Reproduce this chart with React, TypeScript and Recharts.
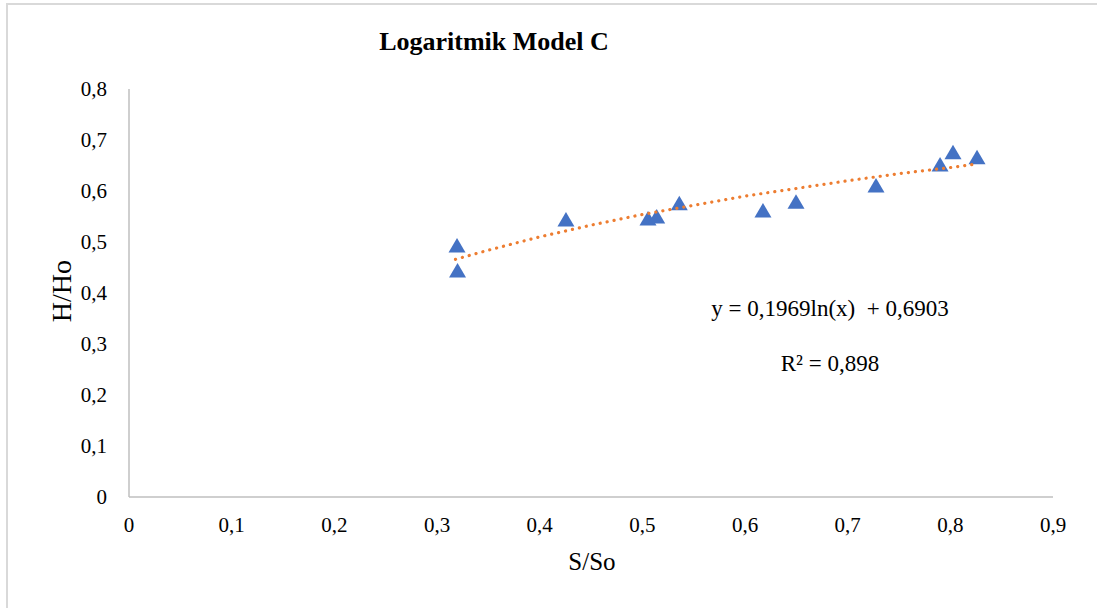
import { ScatterChart, Scatter, XAxis, YAxis } from "recharts";

// measured points, S/So vs H/Ho
const ratioS = [0.3195, 0.32, 0.4256, 0.5055, 0.514, 0.536, 0.6175, 0.6497, 0.7276, 0.79, 0.8026, 0.826];
const ratioH = [0.492, 0.443, 0.543, 0.545, 0.549, 0.575, 0.561, 0.578, 0.61, 0.651, 0.675, 0.665];

// dotted log trendline
const trendS = [0.318, 0.35, 0.4, 0.45, 0.5, 0.55, 0.6, 0.65, 0.7, 0.75, 0.8, 0.826];
const trendH = [0.466, 0.484, 0.51, 0.533, 0.554, 0.572, 0.59, 0.605, 0.62, 0.634, 0.646, 0.653];

const xTicks = [0, 0.1, 0.2, 0.3, 0.4, 0.5, 0.6, 0.7, 0.8, 0.9];
const yTicks = [0, 0.1, 0.2, 0.3, 0.4, 0.5, 0.6, 0.7, 0.8];

const points = ratioS.map((s, i) => ({ s, h: ratioH[i] }));
const trend = trendS.map((s, i) => ({ s, h: trendH[i] }));

const fmt = (v: number) => String(v).replace(".", ",");
const serif = "'Liberation Serif', 'Times New Roman', serif";
const tickStyle = { fill: "#000", fontSize: 21, fontFamily: serif };

// excel-style triangle marker
const Tri = (p: any) => {
  const { cx, cy } = p;
  if (cx == null || cy == null) return null;
  return <path d={`M${cx},${cy - 8}L${cx + 8.5},${cy + 6.5}L${cx - 8.5},${cy + 6.5}Z`} fill="#4472c4" />;
};

export default function App() {
  return (
    <div style={{ position: "absolute", left: 0, top: 0, width: 1097, height: 608, overflow: "hidden", background: "#fff" }}>
      <div style={{ position: "absolute", left: 6, top: 3, width: 1200, height: 700, border: "2px solid #d9d9d9" }} />
      <div style={{ position: "absolute", left: 0, top: 0 }}>
        <ScatterChart width={1097} height={608} margin={{ top: 89, right: 44, bottom: 81, left: 69 }}>
          <XAxis
            type="number"
            dataKey="s"
            domain={[0, 0.9]}
            ticks={xTicks}
            tickFormatter={fmt}
            tickLine={false}
            tickSize={0}
            tickMargin={20}
            height={30}
            axisLine={{ stroke: "#bfbfbf", strokeWidth: 1.5 }}
            tick={tickStyle}
            allowDataOverflow
          />
          <YAxis
            type="number"
            dataKey="h"
            domain={[0, 0.8]}
            ticks={yTicks}
            tickFormatter={fmt}
            tickLine={false}
            tickSize={0}
            tickMargin={22}
            width={60}
            axisLine={{ stroke: "#bfbfbf", strokeWidth: 1.5 }}
            tick={tickStyle}
            allowDataOverflow
          />
          <Scatter data={points} shape={Tri} fill="#4472c4" isAnimationActive={false} />
          <Scatter
            data={trend}
            shape={() => null}
            line={{ stroke: "#ed7d31", strokeWidth: 3.2, strokeDasharray: "0.1 7", strokeLinecap: "round" }}
            lineType="joint"
            isAnimationActive={false}
          />
        </ScatterChart>
      </div>
      <div style={{ position: "absolute", left: 294, width: 400, top: 27, textAlign: "center", fontFamily: serif, fontWeight: "bold", fontSize: 26 }}>
        Logaritmik Model C
      </div>
      <div style={{ position: "absolute", left: 492, width: 200, top: 548, textAlign: "center", fontFamily: serif, fontSize: 25 }}>
        S/So
      </div>
      <div style={{ position: "absolute", left: 12, width: 100, top: 275, textAlign: "center", fontFamily: serif, fontSize: 28, transform: "rotate(-90deg)" }}>
        H/Ho
      </div>
      <div style={{ position: "absolute", left: 680, width: 300, top: 296, textAlign: "center", fontFamily: serif, fontSize: 23, whiteSpace: "pre" }}>
        {"y = 0,1969ln(x)  + 0,6903"}
      </div>
      <div style={{ position: "absolute", left: 730, width: 200, top: 351, textAlign: "center", fontFamily: serif, fontSize: 23 }}>
        R² = 0,898
      </div>
    </div>
  );
}
